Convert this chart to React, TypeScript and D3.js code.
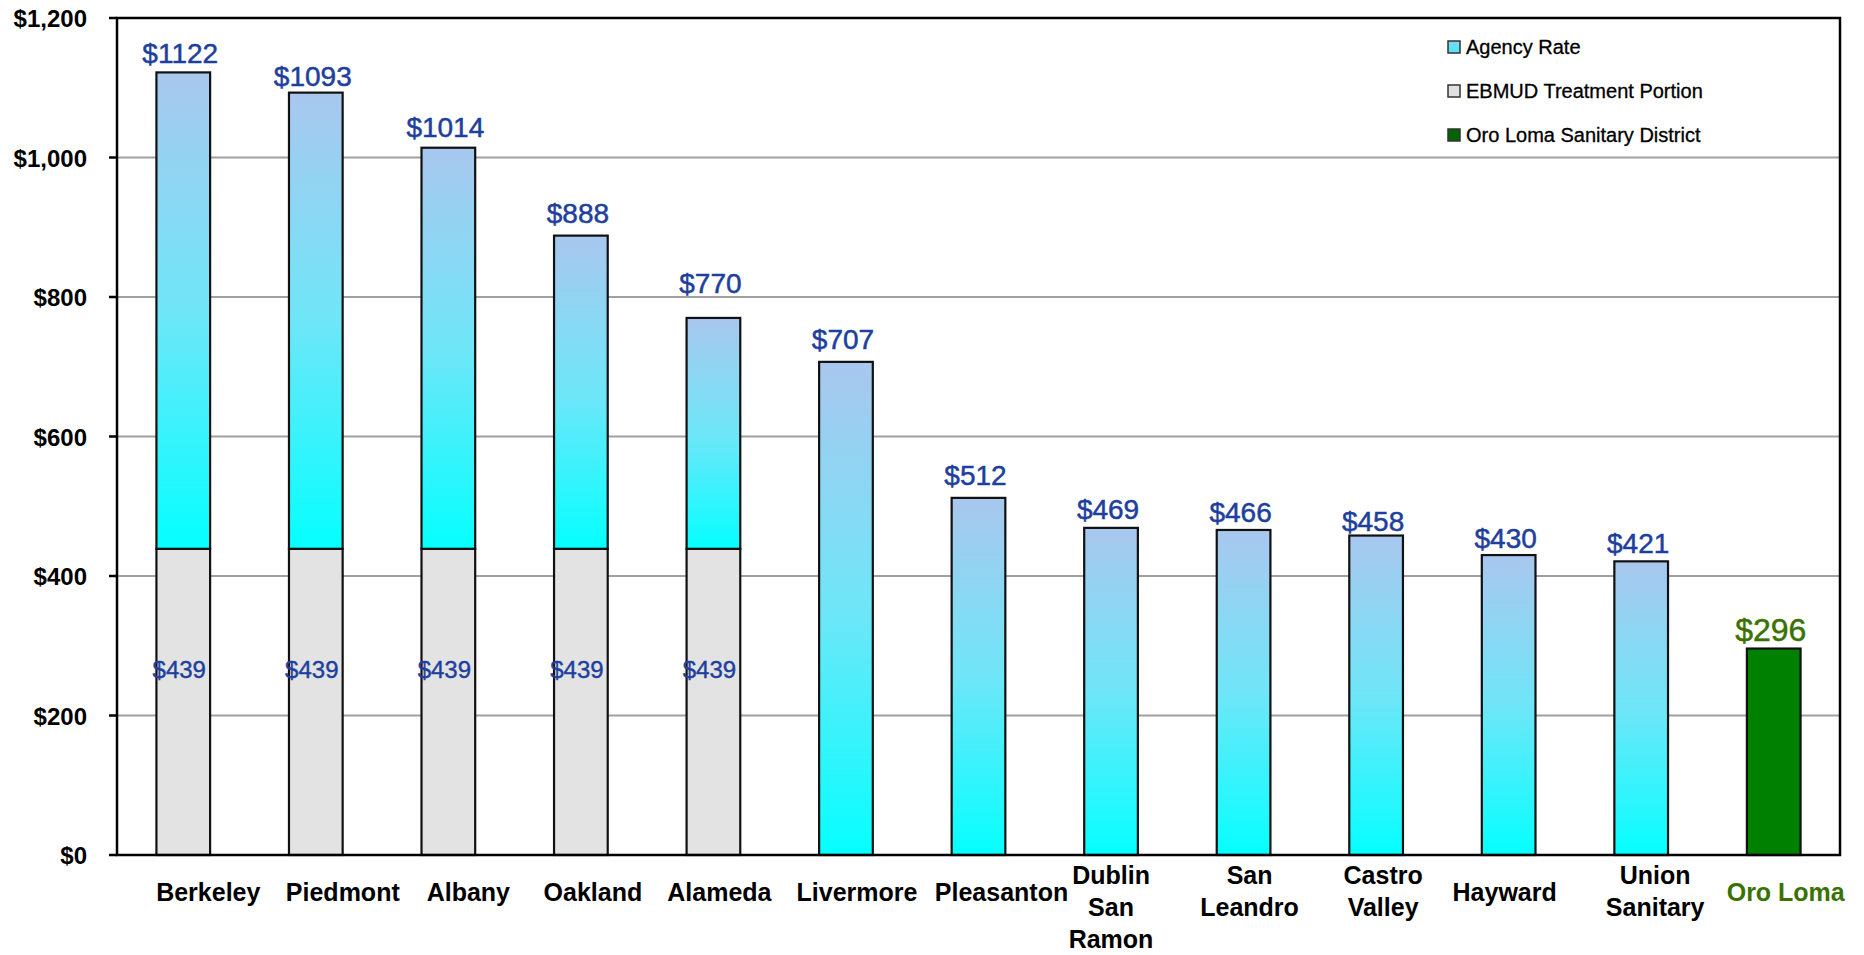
import { scaleBand, scaleLinear } from "d3";
import { useEffect } from "react";

const categories = [
  "Berkeley",
  "Piedmont",
  "Albany",
  "Oakland",
  "Alameda",
  "Livermore",
  "Pleasanton",
  "Dublin San Ramon",
  "San Leandro",
  "Castro Valley",
  "Hayward",
  "Union Sanitary",
  "Oro Loma",
];
// label lines under each bar
const categoryLines = [
  ["Berkeley"],
  ["Piedmont"],
  ["Albany"],
  ["Oakland"],
  ["Alameda"],
  ["Livermore"],
  ["Pleasanton"],
  ["Dublin", "San", "Ramon"],
  ["San", "Leandro"],
  ["Castro", "Valley"],
  ["Hayward"],
  ["Union", "Sanitary"],
  ["Oro Loma"],
];
const totalRate = [1122, 1093, 1014, 888, 770, 707, 512, 469, 466, 458, 430, 421, 296];
const ebmudPortion = [439, 439, 439, 439, 439, 0, 0, 0, 0, 0, 0, 0, 0];
const highlight = "Oro Loma";
const yTicks = [0, 200, 400, 600, 800, 1000, 1200];
const legendItems = ["Agency Rate", "EBMUD Treatment Portion", "Oro Loma Sanitary District"];

const W = 1864;
const H = 955;
const left = 117;
const right = 1840;
const top = 18;
const bottom = 855;

// hand placement of the labels in the original (px nudges)
const catLabelShift = [25, 27, 20, 12, 6, 11, 23, 0, 6, 7, -4, 14, 12];
const valueLabelLift = [0, -2, 2, 4, 16, 4, 4, 0, -1, -4, -2, -1, 1];

const labelBlue = "#1E3F9E";
const oroGreen = "#3A7200";
const font = "'Liberation Sans', Arial, sans-serif";

export default function App() {
  useEffect(() => {
    document.body.style.margin = "0";
  }, []);

  const x = scaleBand<string>().domain(categories).range([left, right]).paddingInner(0.595).paddingOuter(0.2975);
  const y = scaleLinear().domain([0, 1200]).range([bottom, top]);
  const bw = x.bandwidth();
  const fmt = (v: number) => "$" + v.toLocaleString("en-US");

  return (
    <svg width={W} height={H} style={{ display: "block", background: "#fff" }} fontFamily={font}>
      <defs>
        <linearGradient id="agency" x1="0" y1="0" x2="0" y2="1">
          <stop offset="0" stopColor="#A9C7EE" />
          <stop offset="0.5" stopColor="#6FE6F8" />
          <stop offset="1" stopColor="#05FFFF" />
        </linearGradient>
        <linearGradient id="legendAgency" x1="0" y1="0" x2="0" y2="1">
          <stop offset="0" stopColor="#7CD6F2" />
          <stop offset="1" stopColor="#4FE8F8" />
        </linearGradient>
      </defs>

      {/* gridlines */}
      {yTicks
        .filter((t) => t > 0 && t < 1200)
        .map((t) => (
          <line key={`g${t}`} x1={left} x2={right} y1={y(t)} y2={y(t)} stroke="#A0A0A0" strokeWidth={2} />
        ))}

      {/* bars */}
      {categories.map((c, i) => {
        const bx = x(c) ?? 0;
        const base = ebmudPortion[i];
        const isHi = c === highlight;
        const lines = categoryLines[i];
        return (
          <g key={c}>
            {base > 0 && (
              <rect x={bx} y={y(base)} width={bw} height={y(0) - y(base)} fill="#E3E3E3" stroke="#111" strokeWidth={2.2} />
            )}
            <rect
              x={bx}
              y={y(totalRate[i])}
              width={bw}
              height={y(base) - y(totalRate[i])}
              fill={isHi ? "#008000" : "url(#agency)"}
              stroke="#111"
              strokeWidth={2.2}
            />
            <text
              x={bx + bw / 2 - 3}
              y={y(totalRate[i]) - (isHi ? 7 : 9) - valueLabelLift[i]}
              textAnchor="middle"
              fontSize={isHi ? 32 : 28}
              fill={isHi ? oroGreen : labelBlue}
              stroke={isHi ? oroGreen : labelBlue}
              strokeWidth={0.5}
            >
              {"$" + totalRate[i]}
            </text>
            {base > 0 && (
              <text
                x={bx + bw / 2 - 4}
                y={y(254)}
                textAnchor="middle"
                fontSize={24}
                fill={labelBlue}
                stroke={labelBlue}
                strokeWidth={0.4}
              >
                {"$" + base}
              </text>
            )}
            {lines.map((line, j) => (
              <text
                key={line}
                x={bx + bw / 2 + catLabelShift[i]}
                y={(lines.length === 1 ? 901 : 884) + j * 32}
                textAnchor="middle"
                fontSize={25}
                fontWeight="bold"
                fill={isHi ? oroGreen : "#000"}
              >
                {line}
              </text>
            ))}
          </g>
        );
      })}

      {/* frame and axis */}
      <rect x={left} y={top} width={right - left} height={bottom - top} fill="none" stroke="#000" strokeWidth={2.5} />
      {yTicks.map((t) => (
        <g key={`t${t}`}>
          <line x1={left - 8} x2={left} y1={y(t)} y2={y(t)} stroke="#000" strokeWidth={2.5} />
          <text x={left - 30} y={y(t) + 9} textAnchor="end" fontSize={24} fontWeight="bold" fill="#000">
            {fmt(t)}
          </text>
        </g>
      ))}

      {/* legend */}
      {legendItems.map((name, i) => {
        const ly = 47 + i * 44;
        const fill = i === 0 ? "url(#legendAgency)" : i === 1 ? "#E0E0E0" : "#006400";
        return (
          <g key={name}>
            <rect x={1448} y={ly - 6} width={12} height={12} fill={fill} stroke="#333" strokeWidth={1.5} />
            <text x={1466} y={ly + 7} fontSize={20} fill="#000" stroke="#000" strokeWidth={0.3}>
              {name}
            </text>
          </g>
        );
      })}
    </svg>
  );
}
